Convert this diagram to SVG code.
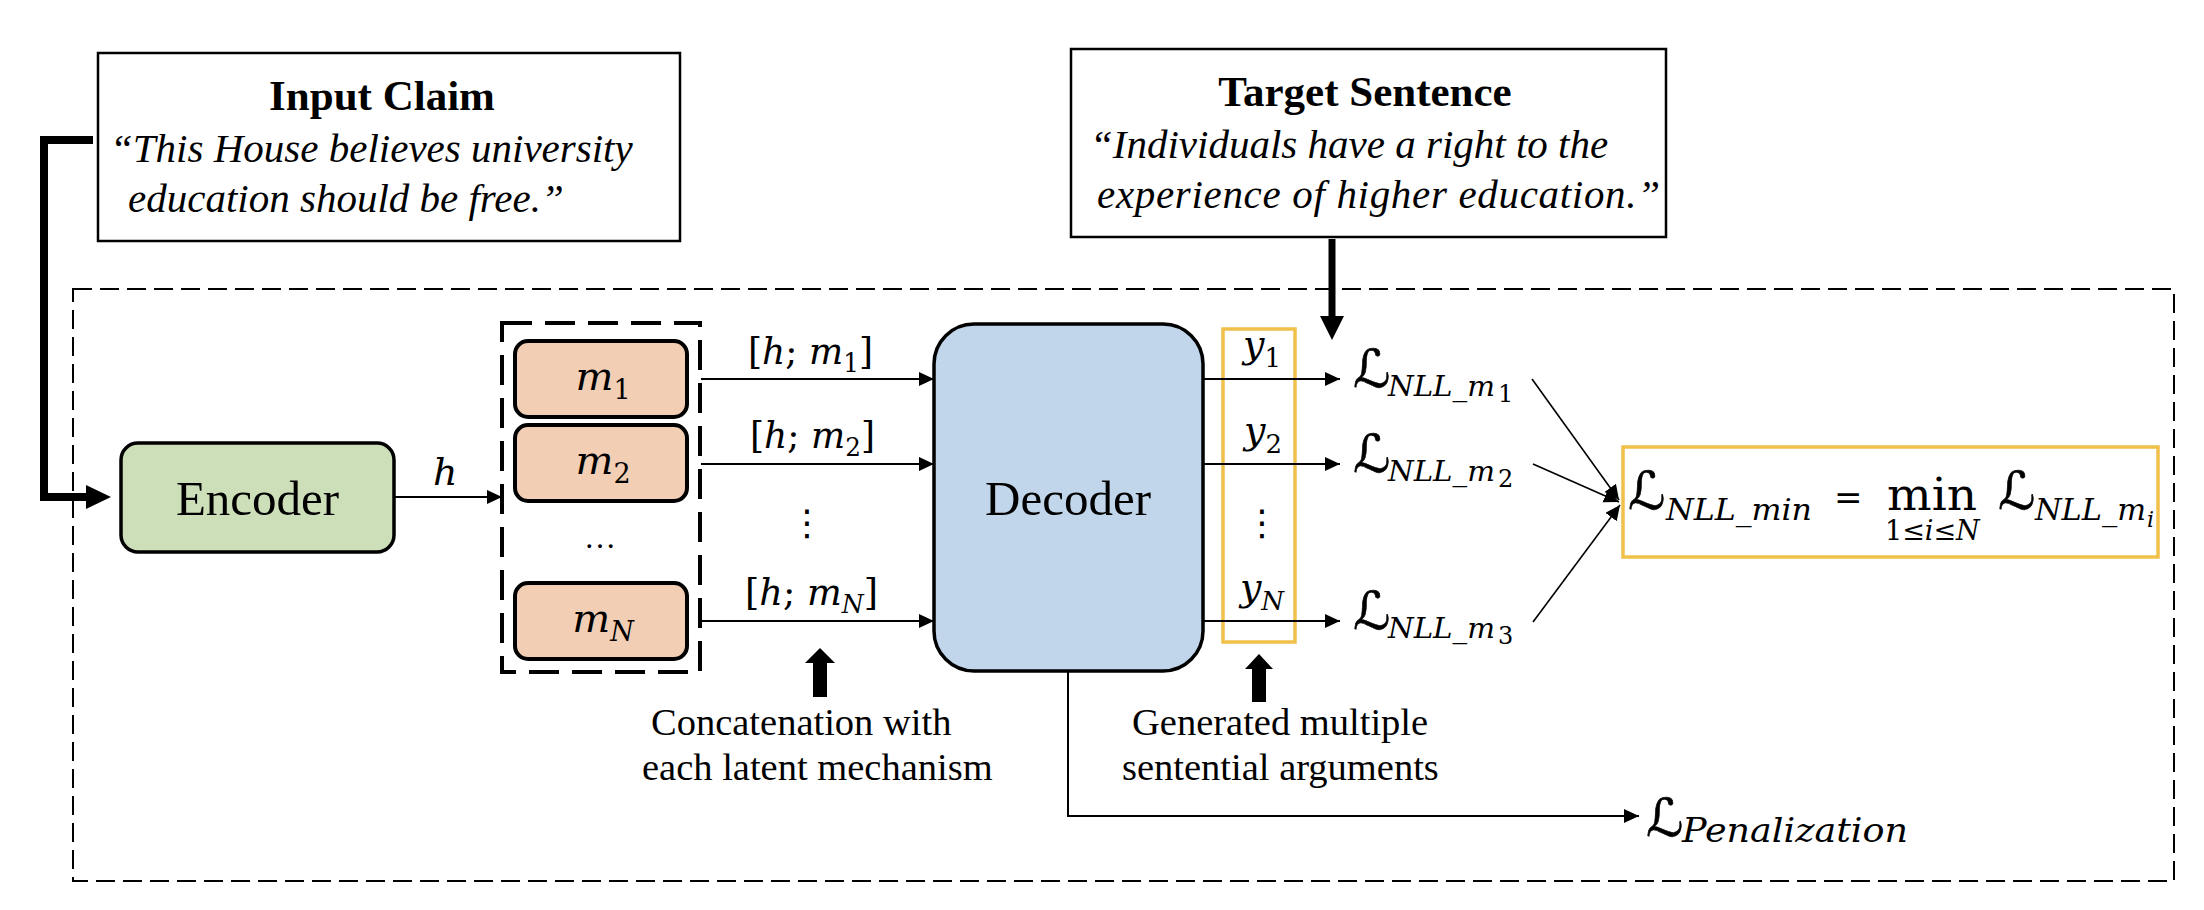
<svg xmlns="http://www.w3.org/2000/svg" width="2204" height="910" viewBox="0 0 2204 910">
<defs>
<style>
.serif{font-family:"Liberation Serif","Times New Roman",serif;fill:#000}
.bold{font-weight:bold}
.it{font-style:italic}
.math{font-family:"DejaVu Serif","DejaVu Sans","Liberation Serif",serif;fill:#000}
.plainbox{fill:#fff;stroke:#000;stroke-width:2.5}
.node{stroke:#000;stroke-width:3.5}
.mbox{fill:#F2CEB4;stroke:#000;stroke-width:4}
.thin{stroke:#000;stroke-width:2;fill:none}
.thinner{stroke:#000;stroke-width:1.6;fill:none}
.orange{fill:none;stroke:#F1C04A;stroke-width:3.5}
.thick{stroke:#000;fill:none}
.scriptL{font-size:52px;stroke:#000;stroke-width:0.6}
</style>
<marker id="ah" markerUnits="userSpaceOnUse" markerWidth="16" markerHeight="15" refX="15" refY="7" orient="auto"><path d="M0,0 L15,7 L0,14 z" fill="#000"/></marker>
</defs>
<rect width="2204" height="910" fill="#fff"/>

<g id="frame">
<rect x="73" y="289" width="2101" height="592" fill="none" stroke="#000" stroke-width="2" stroke-dasharray="19,8"/>
</g>

<g id="input-claim">
<rect class="plainbox" x="98" y="53" width="582" height="188"/>
<text class="serif bold" x="382" y="110" font-size="43" text-anchor="middle">Input Claim</text>
<text class="serif it" x="110" y="162" font-size="41">“This House believes university</text>
<text class="serif it" x="128" y="212" font-size="41">education should be free.”</text>
</g>

<g id="target-sentence">
<rect class="plainbox" x="1071" y="49" width="595" height="188"/>
<text class="serif bold" x="1365" y="106" font-size="43" text-anchor="middle">Target Sentence</text>
<text class="serif it" x="1090" y="158" font-size="41">“Individuals have a right to the</text>
<text class="serif it" x="1097" y="208" font-size="41" textLength="563" lengthAdjust="spacing">experience of higher education.”</text>
</g>

<g id="encoder">
<rect class="node" x="121" y="443" width="273" height="109" rx="17" fill="#CDDFB8"/>
<text class="serif" x="257.5" y="515" font-size="49" text-anchor="middle">Encoder</text>
</g>

<g id="memory">
<rect x="502" y="323" width="198" height="349" fill="none" stroke="#000" stroke-width="4" stroke-dasharray="30,13"/>
<g id="m1">
<rect class="mbox" x="515" y="341" width="172" height="76" rx="13"/>
<text class="math it" x="603" y="390" font-size="40" text-anchor="middle">m<tspan font-size="27" font-style="normal" dy="9">1</tspan></text>
</g>
<g id="m2">
<rect class="mbox" x="515" y="425" width="172" height="76" rx="13"/>
<text class="math it" x="603" y="474" font-size="40" text-anchor="middle">m<tspan font-size="27" font-style="normal" dy="9">2</tspan></text>
</g>
<text class="serif" x="600" y="548" font-size="32" text-anchor="middle">…</text>
<g id="mN">
<rect class="mbox" x="515" y="583" width="172" height="76" rx="13"/>
<text class="math it" x="603" y="632" font-size="40" text-anchor="middle">m<tspan font-size="27" dy="9">N</tspan></text>
</g>
</g>

<g id="decoder">
<rect class="node" x="934" y="324" width="269" height="347" rx="40" fill="#C1D6EA"/>
<text class="serif" x="1068" y="515" font-size="49" text-anchor="middle">Decoder</text>
</g>

<g id="outputs">
<rect class="orange" x="1223" y="329" width="72" height="313"/>
<text class="math it" x="1262" y="357" font-size="38" text-anchor="middle">y<tspan font-size="26" font-style="normal" dy="10">1</tspan></text>
<text class="math it" x="1263" y="443" font-size="38" text-anchor="middle">y<tspan font-size="26" font-style="normal" dy="10">2</tspan></text>
<text class="math" x="1262" y="535" font-size="36" text-anchor="middle">⋮</text>
<text class="math it" x="1262" y="600" font-size="38" text-anchor="middle">y<tspan font-size="26" dy="10">N</tspan></text>
</g>

<g id="loss-m1">
<text class="math" font-size="42"><tspan class="scriptL" x="1353" y="387">ℒ</tspan><tspan x="1388" y="396" font-size="28" font-style="italic" textLength="107" lengthAdjust="spacingAndGlyphs">NLL_m</tspan><tspan x="1498" y="402" font-size="24">1</tspan></text>
</g>
<g id="loss-m2">
<text class="math" font-size="42"><tspan class="scriptL" x="1353" y="472">ℒ</tspan><tspan x="1388" y="481" font-size="28" font-style="italic" textLength="107" lengthAdjust="spacingAndGlyphs">NLL_m</tspan><tspan x="1498" y="487" font-size="24">2</tspan></text>
</g>
<g id="loss-m3">
<text class="math" font-size="42"><tspan class="scriptL" x="1353" y="629">ℒ</tspan><tspan x="1388" y="638" font-size="28" font-style="italic" textLength="107" lengthAdjust="spacingAndGlyphs">NLL_m</tspan><tspan x="1498" y="644" font-size="24">3</tspan></text>
</g>

<g id="loss-min">
<rect class="orange" x="1623" y="447" width="535" height="110"/>
<text class="math" font-size="44"><tspan class="scriptL" x="1628" y="509">ℒ</tspan><tspan x="1666" y="520" font-size="30" font-style="italic" textLength="146" lengthAdjust="spacingAndGlyphs">NLL_min</tspan><tspan x="1834" y="509" font-size="34">=</tspan><tspan x="1887" y="510" font-size="44" textLength="90" lengthAdjust="spacingAndGlyphs">min</tspan><tspan x="1885" y="540" font-size="27">1≤</tspan><tspan font-size="27" font-style="italic">i</tspan><tspan font-size="27">≤</tspan><tspan font-size="27" font-style="italic">N</tspan><tspan class="scriptL" x="1998" y="509">ℒ</tspan><tspan x="2035" y="520" font-size="30" font-style="italic" textLength="111" lengthAdjust="spacingAndGlyphs">NLL_m</tspan><tspan x="2147" y="527" font-size="22" font-style="italic">i</tspan></text>
</g>

<g id="loss-penalization">
<text class="math" font-size="44"><tspan class="scriptL" x="1646" y="836">ℒ</tspan><tspan x="1682" y="842" font-size="33" font-style="italic" textLength="226" lengthAdjust="spacingAndGlyphs">Penalization</tspan></text>
</g>

<g id="label-concat">
<text class="serif" x="651" y="735" font-size="38.5">Concatenation with</text>
<text class="serif" x="642" y="780" font-size="38.5">each latent mechanism</text>
</g>
<g id="label-generated">
<text class="serif" x="1132" y="735" font-size="38.5">Generated multiple</text>
<text class="serif" x="1122" y="780" font-size="38.5">sentential arguments</text>
</g>

<g id="concat-labels">
<text class="math" x="748" y="364" font-size="38" textLength="125" lengthAdjust="spacingAndGlyphs">[<tspan font-style="italic">h</tspan>; <tspan font-style="italic">m</tspan><tspan font-size="26" dy="8">1</tspan><tspan dy="-8">]</tspan></text>
<text class="math" x="750" y="448" font-size="38" textLength="125" lengthAdjust="spacingAndGlyphs">[<tspan font-style="italic">h</tspan>; <tspan font-style="italic">m</tspan><tspan font-size="26" dy="8">2</tspan><tspan dy="-8">]</tspan></text>
<text class="math" x="807" y="535" font-size="36" text-anchor="middle">⋮</text>
<text class="math" x="745" y="605" font-size="38" textLength="133" lengthAdjust="spacingAndGlyphs">[<tspan font-style="italic">h</tspan>; <tspan font-style="italic">m</tspan><tspan font-size="26" font-style="italic" dy="8">N</tspan><tspan dy="-8">]</tspan></text>
<text class="math it" x="433" y="485" font-size="38">h</text>
</g>

<g id="connectors">
<path class="thick" d="M93,140 H44 V497 H90" stroke-width="8"/>
<polygon points="86,485 111,497 86,509" fill="#000"/>
<line class="thick" x1="1332" y1="239" x2="1332" y2="318" stroke-width="7"/>
<polygon points="1320,316 1344,316 1332,340" fill="#000"/>
<line class="thin" x1="394" y1="497" x2="502" y2="497" marker-end="url(#ah)"/>
<line class="thin" x1="701" y1="379" x2="934" y2="379" marker-end="url(#ah)"/>
<line class="thin" x1="701" y1="464" x2="934" y2="464" marker-end="url(#ah)"/>
<line class="thin" x1="701" y1="621" x2="934" y2="621" marker-end="url(#ah)"/>
<line class="thin" x1="1203" y1="379" x2="1340" y2="379" marker-end="url(#ah)"/>
<line class="thin" x1="1203" y1="464" x2="1340" y2="464" marker-end="url(#ah)"/>
<line class="thin" x1="1203" y1="621" x2="1340" y2="621" marker-end="url(#ah)"/>
<line class="thinner" x1="1532" y1="379" x2="1619" y2="500" marker-end="url(#ah)"/>
<line class="thinner" x1="1533" y1="464" x2="1619" y2="502" marker-end="url(#ah)"/>
<line class="thinner" x1="1533" y1="622" x2="1620" y2="505" marker-end="url(#ah)"/>
<path class="thin" d="M1068,671 V816 H1639" marker-end="url(#ah)"/>
<rect x="813" y="660" width="14" height="37" fill="#000"/>
<polygon points="805,663 835,663 820,648" fill="#000"/>
<rect x="1252" y="666" width="14" height="36" fill="#000"/>
<polygon points="1245,669 1273,669 1259,654" fill="#000"/>
</g>
</svg>
